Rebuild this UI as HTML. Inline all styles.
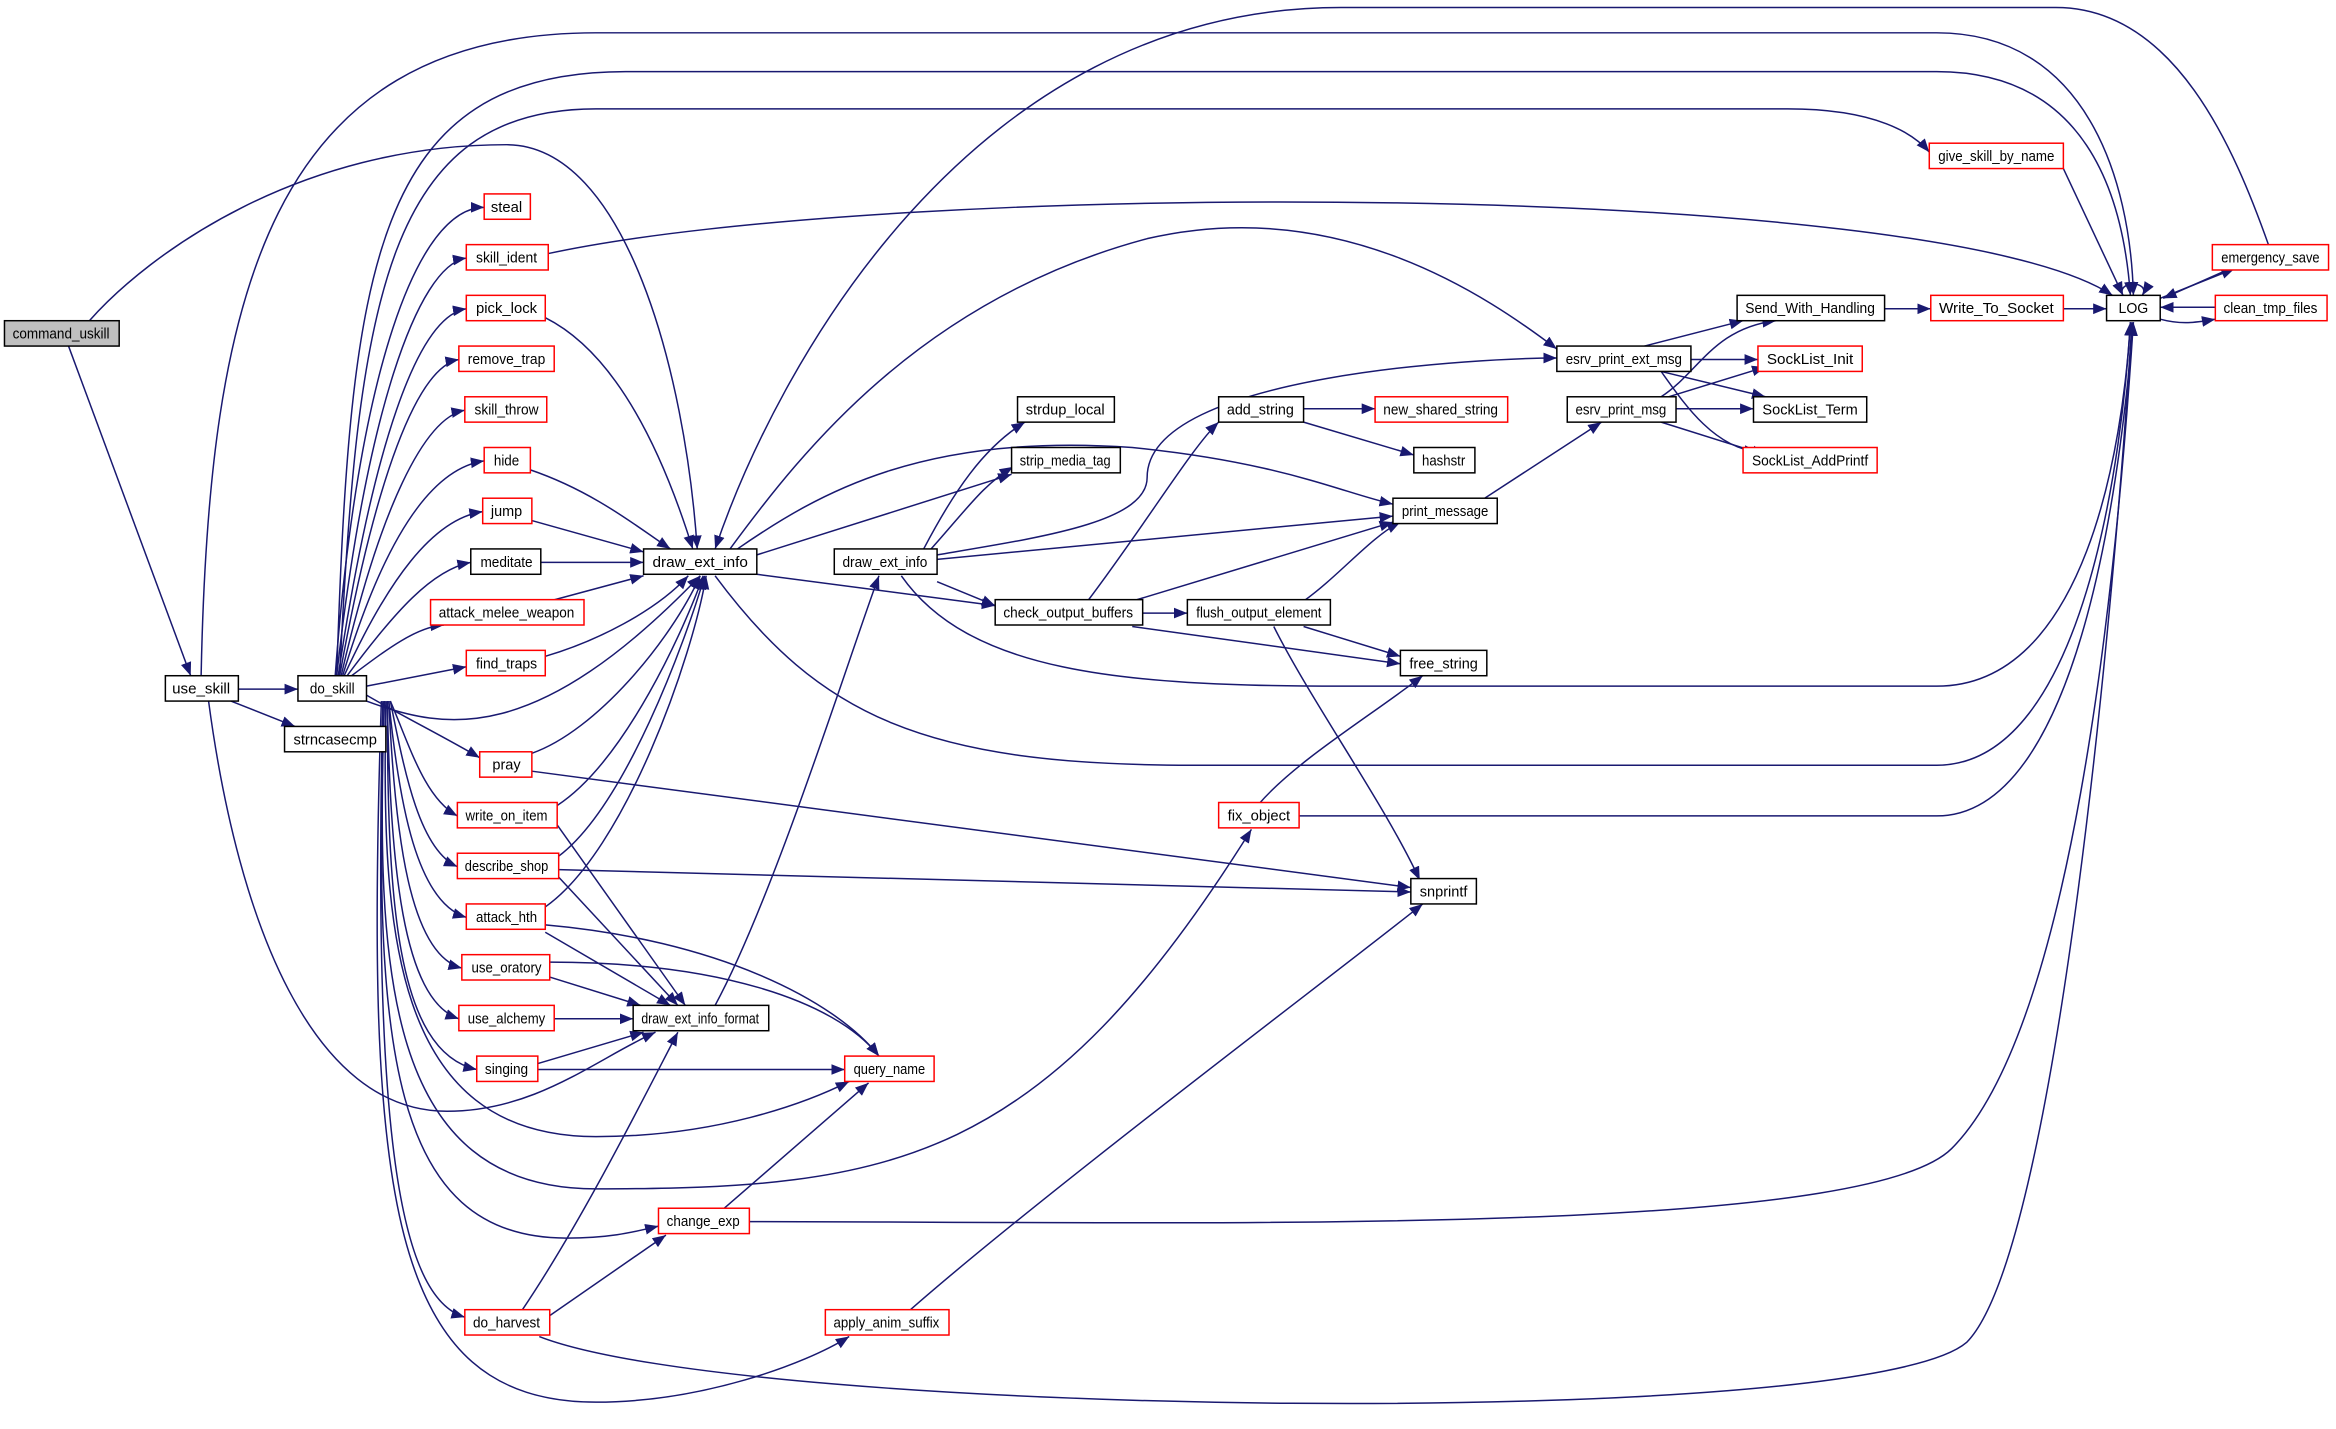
<!DOCTYPE html>
<html><head><meta charset="utf-8"><style>
html,body{margin:0;padding:0;background:#fff}
svg{display:block}
text{font-family:"Liberation Sans",sans-serif;font-size:10px;text-anchor:middle;fill:#000}
.n{fill:#fff;stroke:#000;stroke-width:1}
.r{fill:#fff;stroke:#f00;stroke-width:1}
.e{fill:none;stroke:#191970;stroke-width:1}
</style></head><body>
<svg width="2336" height="1429" viewBox="0 0 1568 958" preserveAspectRatio="none" xmlns="http://www.w3.org/2000/svg">
<defs><marker id="a" viewBox="0 0 10 10" refX="10" refY="5" markerWidth="9" markerHeight="9" markerUnits="userSpaceOnUse" orient="auto"><path d="M0,1 L10,5 L0,9 z" fill="#191970"/></marker></defs>
<g class="e" marker-end="url(#a)">
<path d="M46,232 L128,453"/>
<path d="M60,215 C100,170 200,97 340,97 C420,97 460,250 468,368"/>
<path d="M160,462 L200,462"/>
<path d="M155,470 L198,487"/>
<path d="M135,453 C140,200 180,22 400,22 L1300,22 C1400,22 1430,120 1432,198"/>
<path d="M140,470 C160,620 210,745 300,745 C360,745 400,710 440,692"/>
<path d="M228,453 C240,200 260,73 400,73 L1200,73 C1260,73 1285,90 1295,102"/>
<path d="M226,453 C235,180 250,48 420,48 L1300,48 C1400,48 1425,130 1430,198"/>
<path d="M225,453 C240,250 280,139 325,139"/>
<path d="M226,453 C245,280 280,178 313,173"/>
<path d="M227,453 C250,300 280,212 313,207"/>
<path d="M228,453 C252,320 280,246 308,241"/>
<path d="M229,453 C255,340 285,280 312,275"/>
<path d="M230,453 C258,360 290,314 325,309"/>
<path d="M231,453 C260,390 290,348 324,343"/>
<path d="M233,453 C265,410 290,382 316,377"/>
<path d="M236,453 C260,435 280,420 298,419"/>
<path d="M246,460 L313,447"/>
<path d="M246,470 C300,490 360,500 470,386"/>
<path d="M246,466 C270,480 300,495 322,508"/>
<path d="M262,470 C275,500 285,535 307,547"/>
<path d="M262,470 C272,520 282,570 307,581"/>
<path d="M261,470 C268,540 280,605 313,615"/>
<path d="M261,470 C265,560 275,640 310,649"/>
<path d="M260,470 C262,580 270,670 308,683"/>
<path d="M260,470 C260,600 265,705 320,717"/>
<path d="M259,470 C256,620 262,762 400,762 C480,762 540,740 570,725"/>
<path d="M258,470 C252,650 258,797 400,797 C600,797 700,780 840,556"/>
<path d="M258,470 C250,700 262,830 380,830 C410,830 425,826 442,822"/>
<path d="M257,470 C250,760 268,870 312,883"/>
<path d="M256,470 C245,800 260,940 400,940 C470,940 540,915 570,896"/>
<path d="M368,170 C600,120 1300,120 1418,198"/>
<path d="M366,213 C420,240 450,320 465,368"/>
<path d="M356,315 C400,330 430,355 450,368"/>
<path d="M357,349 L432,370"/>
<path d="M363,377 L432,377"/>
<path d="M365,404 L432,386"/>
<path d="M366,440 C400,430 440,410 462,386"/>
<path d="M357,505 C400,490 450,430 470,386"/>
<path d="M374,540 C420,510 460,420 472,386"/>
<path d="M375,574 C420,540 460,430 473,386"/>
<path d="M366,608 C420,570 465,440 474,386"/>
<path d="M357,517 L947,595"/>
<path d="M375,583 L947,598"/>
<path d="M374,553 L460,674"/>
<path d="M375,588 L455,674"/>
<path d="M366,620 C480,630 560,670 590,708"/>
<path d="M366,625 L450,674"/>
<path d="M369,645 C480,645 560,670 590,708"/>
<path d="M369,655 L430,674"/>
<path d="M372,683 L425,683"/>
<path d="M361,713 L432,692"/>
<path d="M361,717 L567,717"/>
<path d="M350,879 C390,820 430,740 455,692"/>
<path d="M369,882 L447,828"/>
<path d="M362,896 C500,950 1250,960 1320,900 C1380,840 1420,400 1431,216"/>
<path d="M485,811 L583,726"/>
<path d="M503,819 C800,819 1250,830 1310,770 C1390,690 1420,400 1432,216"/>
<path d="M610,879 C700,800 900,650 955,606"/>
<path d="M480,674 C520,600 570,440 590,386"/>
<path d="M1523,165 C1500,100 1460,5 1380,5 L900,5 C650,5 520,250 480,368"/>
<path d="M490,368 C540,300 620,200 770,160 C900,130 1000,200 1045,234"/>
<path d="M495,368 C550,330 620,290 760,300 C860,310 900,330 935,338"/>
<path d="M508,372 L679,318"/>
<path d="M508,385 L668,406"/>
<path d="M480,386 C550,480 620,513 800,513 L1300,513 C1400,513 1425,300 1430,216"/>
<path d="M620,368 C640,330 660,300 688,283"/>
<path d="M625,368 C650,340 660,325 680,313"/>
<path d="M629,372 C700,360 770,350 770,320 C770,250 1000,240 1045,240"/>
<path d="M629,375 L935,346"/>
<path d="M629,390 L668,406"/>
<path d="M605,386 C650,450 750,460 900,460 L1300,460 C1400,460 1425,300 1430,216"/>
<path d="M730,403 C770,350 800,300 818,283"/>
<path d="M760,403 L935,350"/>
<path d="M767,411 L797,411"/>
<path d="M760,420 L940,445"/>
<path d="M875,403 C900,385 920,360 940,350"/>
<path d="M875,420 L940,440"/>
<path d="M855,420 C880,470 930,540 953,590"/>
<path d="M875,274 L923,274"/>
<path d="M875,283 L949,305"/>
<path d="M995,335 L1075,283"/>
<path d="M845,539 C870,510 920,480 955,453"/>
<path d="M872,547 L1300,547 C1400,547 1425,300 1432,216"/>
<path d="M1100,233 L1170,215"/>
<path d="M1135,241 L1180,241"/>
<path d="M1115,249 L1185,266"/>
<path d="M1115,249 C1130,270 1150,300 1180,303"/>
<path d="M1120,266 L1185,246"/>
<path d="M1125,274 L1177,274"/>
<path d="M1115,283 L1185,305"/>
<path d="M1115,266 C1140,250 1150,220 1192,215"/>
<path d="M1265,207 L1296,207"/>
<path d="M1385,207 L1414,207"/>
<path d="M1385,113 L1425,198"/>
<path d="M1425,198 C1420,188 1444,188 1438,198"/>
<path d="M1450,200 L1500,180"/>
<path d="M1487,206 L1450,206"/>
<path d="M1450,214 C1465,218 1475,216 1487,214"/>
<path d="M1495,181 L1452,200"/>
</g>
<g lengthAdjust="spacingAndGlyphs">
<rect class="n" x="3" y="215" width="77" height="17" style="fill:#bfbfbf"/><text x="41" y="227" textLength="65" lengthAdjust="spacingAndGlyphs">command_uskill</text>
<rect class="n" x="111" y="453" width="49" height="17"/><text x="135" y="465" textLength="39" lengthAdjust="spacingAndGlyphs">use_skill</text>
<rect class="n" x="200" y="453" width="46" height="17"/><text x="223" y="465" textLength="30" lengthAdjust="spacingAndGlyphs">do_skill</text>
<rect class="n" x="191" y="487" width="68" height="17"/><text x="225" y="499" textLength="56" lengthAdjust="spacingAndGlyphs">strncasecmp</text>
<rect class="r" x="325" y="130" width="31" height="17"/><text x="340" y="142" textLength="21" lengthAdjust="spacingAndGlyphs">steal</text>
<rect class="r" x="313" y="164" width="55" height="17"/><text x="340" y="176" textLength="41" lengthAdjust="spacingAndGlyphs">skill_ident</text>
<rect class="r" x="313" y="198" width="53" height="17"/><text x="340" y="210" textLength="41" lengthAdjust="spacingAndGlyphs">pick_lock</text>
<rect class="r" x="308" y="232" width="64" height="17"/><text x="340" y="244" textLength="52" lengthAdjust="spacingAndGlyphs">remove_trap</text>
<rect class="r" x="312" y="266" width="55" height="17"/><text x="340" y="278" textLength="43" lengthAdjust="spacingAndGlyphs">skill_throw</text>
<rect class="r" x="325" y="300" width="31" height="17"/><text x="340" y="312" textLength="17" lengthAdjust="spacingAndGlyphs">hide</text>
<rect class="r" x="324" y="334" width="33" height="17"/><text x="340" y="346" textLength="21" lengthAdjust="spacingAndGlyphs">jump</text>
<rect class="n" x="316" y="368" width="47" height="17"/><text x="340" y="380" textLength="35" lengthAdjust="spacingAndGlyphs">meditate</text>
<rect class="r" x="289" y="402" width="103" height="17"/><text x="340" y="414" textLength="91" lengthAdjust="spacingAndGlyphs">attack_melee_weapon</text>
<rect class="r" x="313" y="436" width="53" height="17"/><text x="340" y="448" textLength="41" lengthAdjust="spacingAndGlyphs">find_traps</text>
<rect class="r" x="322" y="504" width="35" height="17"/><text x="340" y="516" textLength="19" lengthAdjust="spacingAndGlyphs">pray</text>
<rect class="r" x="307" y="538" width="67" height="17"/><text x="340" y="550" textLength="55" lengthAdjust="spacingAndGlyphs">write_on_item</text>
<rect class="r" x="307" y="572" width="68" height="17"/><text x="340" y="584" textLength="56" lengthAdjust="spacingAndGlyphs">describe_shop</text>
<rect class="r" x="313" y="606" width="53" height="17"/><text x="340" y="618" textLength="41" lengthAdjust="spacingAndGlyphs">attack_hth</text>
<rect class="r" x="310" y="640" width="59" height="17"/><text x="340" y="652" textLength="47" lengthAdjust="spacingAndGlyphs">use_oratory</text>
<rect class="r" x="308" y="674" width="64" height="17"/><text x="340" y="686" textLength="52" lengthAdjust="spacingAndGlyphs">use_alchemy</text>
<rect class="r" x="320" y="708" width="41" height="17"/><text x="340" y="720" textLength="29" lengthAdjust="spacingAndGlyphs">singing</text>
<rect class="r" x="312" y="878" width="57" height="17"/><text x="340" y="890" textLength="45" lengthAdjust="spacingAndGlyphs">do_harvest</text>
<rect class="n" x="432" y="368" width="76" height="17"/><text x="470" y="380" textLength="64" lengthAdjust="spacingAndGlyphs">draw_ext_info</text>
<rect class="n" x="425" y="674" width="91" height="17"/><text x="470" y="686" textLength="79" lengthAdjust="spacingAndGlyphs">draw_ext_info_format</text>
<rect class="r" x="567" y="708" width="60" height="17"/><text x="597" y="720" textLength="48" lengthAdjust="spacingAndGlyphs">query_name</text>
<rect class="r" x="442" y="810" width="61" height="17"/><text x="472" y="822" textLength="49" lengthAdjust="spacingAndGlyphs">change_exp</text>
<rect class="r" x="554" y="878" width="83" height="17"/><text x="595" y="890" textLength="71" lengthAdjust="spacingAndGlyphs">apply_anim_suffix</text>
<rect class="r" x="818" y="538" width="54" height="17"/><text x="845" y="550" textLength="42" lengthAdjust="spacingAndGlyphs">fix_object</text>
<rect class="n" x="560" y="368" width="69" height="17"/><text x="594" y="380" textLength="57" lengthAdjust="spacingAndGlyphs">draw_ext_info</text>
<rect class="n" x="683" y="266" width="65" height="17"/><text x="715" y="278" textLength="53" lengthAdjust="spacingAndGlyphs">strdup_local</text>
<rect class="n" x="679" y="300" width="73" height="17"/><text x="715" y="312" textLength="61" lengthAdjust="spacingAndGlyphs">strip_media_tag</text>
<rect class="n" x="668" y="402" width="99" height="17"/><text x="717" y="414" textLength="87" lengthAdjust="spacingAndGlyphs">check_output_buffers</text>
<rect class="n" x="797" y="402" width="96" height="17"/><text x="845" y="414" textLength="84" lengthAdjust="spacingAndGlyphs">flush_output_element</text>
<rect class="n" x="818" y="266" width="57" height="17"/><text x="846" y="278" textLength="45" lengthAdjust="spacingAndGlyphs">add_string</text>
<rect class="r" x="923" y="266" width="89" height="17"/><text x="967" y="278" textLength="77" lengthAdjust="spacingAndGlyphs">new_shared_string</text>
<rect class="n" x="949" y="300" width="41" height="17"/><text x="969" y="312" textLength="29" lengthAdjust="spacingAndGlyphs">hashstr</text>
<rect class="n" x="935" y="334" width="70" height="17"/><text x="970" y="346" textLength="58" lengthAdjust="spacingAndGlyphs">print_message</text>
<rect class="n" x="940" y="436" width="58" height="17"/><text x="969" y="448" textLength="46" lengthAdjust="spacingAndGlyphs">free_string</text>
<rect class="n" x="947" y="589" width="44" height="17"/><text x="969" y="601" textLength="32" lengthAdjust="spacingAndGlyphs">snprintf</text>
<rect class="n" x="1045" y="232" width="90" height="17"/><text x="1090" y="244" textLength="78" lengthAdjust="spacingAndGlyphs">esrv_print_ext_msg</text>
<rect class="n" x="1052" y="266" width="73" height="17"/><text x="1088" y="278" textLength="61" lengthAdjust="spacingAndGlyphs">esrv_print_msg</text>
<rect class="n" x="1166" y="198" width="99" height="17"/><text x="1215" y="210" textLength="87" lengthAdjust="spacingAndGlyphs">Send_With_Handling</text>
<rect class="r" x="1180" y="232" width="70" height="17"/><text x="1215" y="244" textLength="58" lengthAdjust="spacingAndGlyphs">SockList_Init</text>
<rect class="n" x="1177" y="266" width="76" height="17"/><text x="1215" y="278" textLength="64" lengthAdjust="spacingAndGlyphs">SockList_Term</text>
<rect class="r" x="1170" y="300" width="90" height="17"/><text x="1215" y="312" textLength="78" lengthAdjust="spacingAndGlyphs">SockList_AddPrintf</text>
<rect class="r" x="1296" y="198" width="89" height="17"/><text x="1340" y="210" textLength="77" lengthAdjust="spacingAndGlyphs">Write_To_Socket</text>
<rect class="r" x="1295" y="96" width="90" height="17"/><text x="1340" y="108" textLength="78" lengthAdjust="spacingAndGlyphs">give_skill_by_name</text>
<rect class="n" x="1414" y="198" width="36" height="17"/><text x="1432" y="210" textLength="20" lengthAdjust="spacingAndGlyphs">LOG</text>
<rect class="r" x="1485" y="164" width="78" height="17"/><text x="1524" y="176" textLength="66" lengthAdjust="spacingAndGlyphs">emergency_save</text>
<rect class="r" x="1487" y="198" width="75" height="17"/><text x="1524" y="210" textLength="63" lengthAdjust="spacingAndGlyphs">clean_tmp_files</text>
</g>
</svg>
</body></html>
